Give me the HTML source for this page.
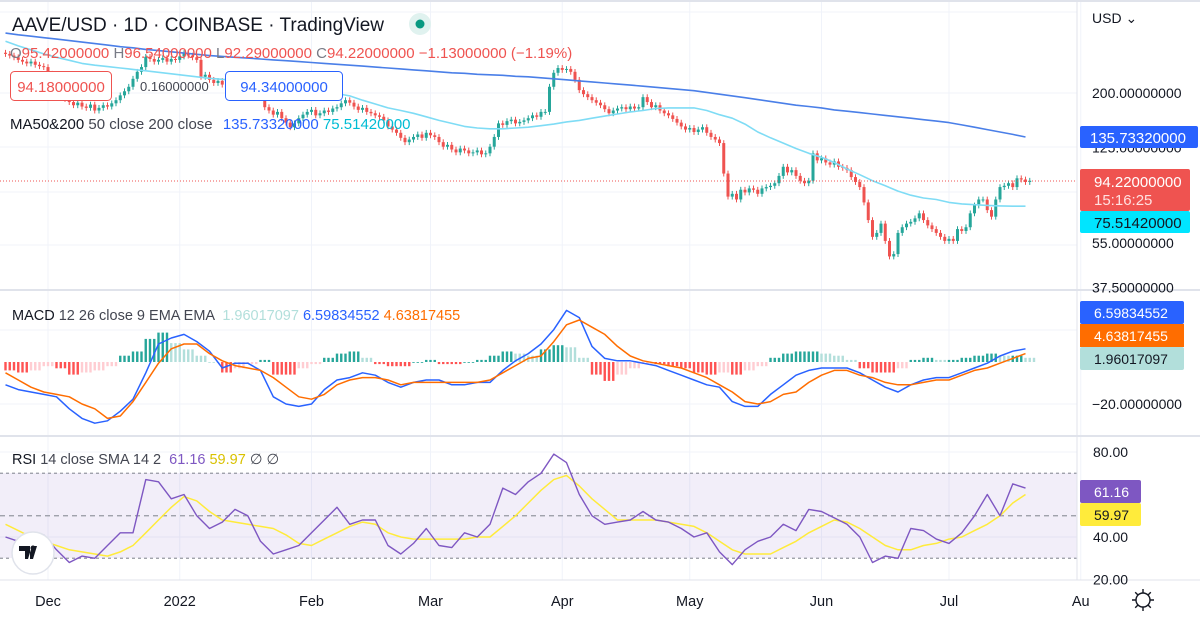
<!DOCTYPE html>
<html><head><meta charset="utf-8">
<style>
html,body{margin:0;padding:0;background:#fff;}
#root{position:relative;width:1200px;height:617px;overflow:hidden;font-family:"Liberation Sans",sans-serif;}
svg text{font-family:"Liberation Sans",sans-serif;}
</style></head>
<body>
<div id="root">
<svg id="chart" width="1200" height="617" viewBox="0 0 1200 617">
  <defs><clipPath id="plot"><rect x="0" y="0" width="1077" height="617"/></clipPath></defs>
  <g id="grid"></g>
  <rect x="0" y="473" width="1077" height="85" fill="#7e57c2" fill-opacity="0.1"/>
  <g id="rsiLevels"></g>
  <g clip-path="url(#plot)">
    <g id="candles"></g>
    <g id="mas"></g>
    <g id="macd"></g>
    <g id="rsi"></g>
  </g>
  <line x1="0" y1="181" x2="1077" y2="181" stroke="#ef5350" stroke-dasharray="1,2" stroke-width="1"/>
  <line x1="0" y1="290" x2="1200" y2="290" stroke="#e0e3eb" stroke-width="2"/>
  <line x1="0" y1="436" x2="1200" y2="436" stroke="#e0e3eb" stroke-width="2"/>
  <line x1="0" y1="580" x2="1200" y2="580" stroke="#e0e3eb" stroke-width="1"/>
  <line x1="1077" y1="0" x2="1077" y2="580" stroke="#e0e3eb" stroke-width="1"/>
  <line x1="0" y1="1" x2="1200" y2="1" stroke="#e0e3eb" stroke-width="2"/>

  <!-- header -->
  <text x="12" y="31" font-size="19" fill="#131722">AAVE/USD · 1D · COINBASE · TradingView</text>
  <circle cx="420" cy="24" r="11" fill="#e0f2ef"/>
  <circle cx="420" cy="24" r="4.5" fill="#089981"/>
  <text x="10" y="58" font-size="15" fill="#ef5350"><tspan fill="#787b86">O</tspan>95.42000000 <tspan fill="#787b86">H</tspan>96.54000000 <tspan fill="#787b86">L</tspan>92.29000000 <tspan fill="#787b86">C</tspan>94.22000000 −1.13000000 (−1.19%)</text>
  <rect x="10.5" y="71.5" width="101" height="29" rx="4" fill="#fff" stroke="#ef5350"/>
  <text x="61" y="92" font-size="15" fill="#ef5350" text-anchor="middle">94.18000000</text>
  <text x="140" y="91" font-size="13" fill="#434651">0.16000000</text>
  <rect x="225.5" y="71.5" width="117" height="29" rx="4" fill="#fff" stroke="#2962ff"/>
  <text x="284" y="92" font-size="15" fill="#2962ff" text-anchor="middle">94.34000000</text>
  <text x="10" y="129" font-size="15" fill="#131722">MA50&amp;200 <tspan fill="#434651">50 close 200 close</tspan>  <tspan fill="#2962ff" dx="6">135.73320000</tspan> <tspan fill="#00bcd4">75.51420000</tspan></text>
  <text x="12" y="320" font-size="14.5" fill="#131722">MACD <tspan fill="#434651">12 26 close 9 EMA EMA</tspan> <tspan fill="#b2dfdb" dx="4">1.96017097</tspan> <tspan fill="#2962ff">6.59834552</tspan> <tspan fill="#ff6d00">4.63817455</tspan></text>
  <text x="12" y="464" font-size="14.5" fill="#131722">RSI <tspan fill="#434651">14 close SMA 14 2</tspan> <tspan fill="#7e57c2" dx="4">61.16</tspan> <tspan fill="#d9c100">59.97</tspan> <tspan fill="#434651">∅ ∅</tspan></text>

  <!-- price axis -->
  <text x="1092" y="23" font-size="14" fill="#131722">USD ⌄</text>
  <g id="axisLabels"></g>
  <rect x="1080" y="126" width="118" height="22" fill="#2962ff" rx="2"/>
  <text x="1090" y="143" font-size="15" fill="#fff">135.73320000</text>
  <rect x="1080" y="169" width="110" height="42" fill="#ef5350" rx="2"/>
  <text x="1094" y="187" font-size="15" fill="#fff">94.22000000</text>
  <text x="1094" y="205" font-size="15" fill="#ffe0e0">15:16:25</text>
  <rect x="1080" y="211" width="110" height="22" fill="#00e5ff" rx="2"/>
  <text x="1094" y="228" font-size="15" fill="#131722">75.51420000</text>
  <rect x="1080" y="301" width="104" height="23" fill="#2962ff" rx="2"/>
  <text x="1094" y="318" font-size="14" fill="#fff">6.59834552</text>
  <rect x="1080" y="324" width="104" height="23" fill="#ff6d00"/>
  <text x="1094" y="341" font-size="14" fill="#fff">4.63817455</text>
  <rect x="1080" y="347" width="104" height="23" fill="#b2dfdb" rx="2"/>
  <text x="1094" y="364" font-size="14" fill="#131722">1.96017097</text>
  <rect x="1080" y="480" width="61" height="23" fill="#7e57c2" rx="2"/>
  <text x="1094" y="497" font-size="14" fill="#fff">61.16</text>
  <rect x="1080" y="503" width="61" height="23" fill="#ffeb3b" rx="2"/>
  <text x="1094" y="520" font-size="14" fill="#131722">59.97</text>

  <!-- logo -->
  <circle cx="33" cy="553" r="21" fill="#fff" stroke="#e0e3eb" stroke-width="1.5"/>
  <path d="M19 546 h11 v13 h-5 v-8 h-6 z M32 546 l-4 13 h5 l4 -13 z" fill="#131722"/>
  <circle cx="33" cy="548" r="2.5" fill="#131722"/>

  <g id="timeLabels"></g>
  <g transform="translate(1143,600)" fill="none" stroke="#131722" stroke-width="1.4">
    <circle r="7"/>
    <path d="M0 -11 v4 M0 7 v4 M-11 0 h4 M7 0 h4 M-7.8 -7.8 l2.8 2.8 M5 5 l2.8 2.8 M-7.8 7.8 l2.8 -2.8 M5 -5 l2.8 -2.8"/>
  </g>
</svg>
</div>
<script>
// ---- data ----
const closes = [280,276,272,266,262,258,262,255,252,250,236,222,206,198,190,185,180,184,178,176,181,172,176,180,178,183,188,196,203,211,226,240,250,273,268,262,266,270,262,268,266,274,282,276,272,266,230,234,224,218,222,215,211,214,208,205,212,218,215,224,195,177,172,166,170,161,155,149,154,161,166,170,173,165,168,172,170,175,177,183,188,184,178,173,176,170,168,165,163,158,150,146,142,136,131,134,137,140,136,142,139,137,131,126,128,123,120,124,122,119,120,122,118,119,126,137,154,152,157,159,154,156,158,161,165,163,170,170,211,238,248,244,246,240,224,205,198,193,188,184,180,174,168,172,175,177,174,178,175,177,193,185,177,180,172,168,165,160,155,150,146,148,143,146,149,142,137,134,130,100,82,84,80,87,85,88,87,84,88,89,90,92,98,106,101,103,98,94,92,94,119,112,114,110,108,111,106,105,103,97,93,89,78,67,58,60,65,56,49,50,60,63,65,66,68,71,67,64,62,60,58,56,57,56,62,61,63,71,76,80,80,73,69,80,89,90,92,89,96,95,93,94];
const ma200 = [335,330,326,322,318,314,310,306,302,298,295,291,288,285,282,279,276,274,272,270,268,266,264,262,260,258,256,254,252,250,248,246,244,242,240,238,237,235,234,233,231,230,228,226,224,222,220,218,216,214,212,210,208,206,204,201,198,195,192,189,186,183,180,178,176,173,171,169,167,165,163,161,159,157,155,152,149,146,143,140,137];
const ma50 = [312,300,290,280,272,265,258,254,251,248,245,242,239,236,233,230,227,225,223,219,215,211,208,205,203,201,199,195,188,182,176,172,168,163,158,154,150,148,147,147,148,149,151,153,156,158,161,164,167,170,172,175,176,176,176,172,166,161,153,143,136,130,124,119,115,110,104,99,94,90,86,83,81,80,78,77,76.5,76,75.7,75.5,75.5];
const macdLine = [-12,-14,-15,-16,-17,-22,-26,-28,-27,-23,-18,-7,5,7.5,9,6,2,-5,-3,-3,-6,-17,-20,-21,-20,-14,-10,-9,-7,-8,-11,-13,-11,-10,-10,-12,-12,-11,-11,-6,-2,1,5,11,19,16,4,-1,-2,-2,-3,-4,-6,-8,-10,-12,-13,-19,-21,-21,-16,-12,-8,-6,-5,-5,-5,-7,-10,-13,-15,-12,-10,-9,-9,-7,-5,-3,0,2,3];
const signalLine = [-7,-10,-13,-15,-16,-17,-20,-22,-26,-25,-19,-11,-3,3,5,5,1,-2,-4,-5,-6,-9,-13,-17,-18,-16,-12,-10,-9,-9,-10,-12,-11,-11,-11,-11,-11,-11,-10,-7,-4,-1,0,6,13,15,12,9,4,0,-2,-3,-4,-5,-7,-9,-12,-15,-19,-20,-19,-16,-15,-11,-8,-6,-6,-8,-9,-11,-12,-12,-11,-10,-10,-8,-6,-5,-3,-1,1];
const histValues = [-4,-5,-4,-2,-3,-6,-5,-4,-2,3,5,11,14,9,6,3,0,-5,-3,-1,1,-6,-6,-3,-1,2,4,5,2,-1,-2,-2,0,1,-1,-1,0,1,3,5,4,3,6,8,7,2,-6,-9,-6,-3,-1,-1,-2,-3,-5,-6,-5,-6,-4,-2,2,4,5,5,4,3,1,-3,-5,-5,-3,1,2,1,1,2,3,4,3,3,2];
const rsiValues = [40,38,38,41,34,28,31,30,36,42,42,67,66,58,60,50,44,47,53,50,38,32,34,36,42,48,54,46,48,48,36,32,37,44,36,35,42,40,46,63,60,66,70,79,75,60,50,46,47,48,52,48,47,44,40,42,33,27,34,38,40,46,43,53,52,49,46,40,28,31,30,44,43,39,37,42,50,60,50,65,63];
const rsiSma = [46,43,40,38,36,34,33,32,31,33,36,42,48,54,59,57,52,48,47,46,45,44,41,37,36,39,42,45,47,46,42,40,39,39,39,39,39,40,40,45,50,56,62,67,69,64,58,53,48,48,48,48,47,46,45,42,38,34,32,32,32,35,38,42,45,48,47,44,40,36,34,34,36,37,39,40,43,46,50,56,60];
const priceTicks = ["200.00000000","125.00000000","55.00000000","37.50000000"];
const priceTickVals = [200,125,55,37.5];
const rsiTicks = [80,40,20];
const monthLabels = ["Dec","2022","Feb","Mar","Apr","May","Jun","Jul","Au"];
const monthDays = [10,41,72,100,131,161,192,222,253]; // days since Nov 21

// ---- axes ----
const X0 = 5.5, DX = 4.25;
const xDay = d => X0 + DX*d;
const xGrid = i => xDay(i*3);
const yPrice = p => 93 - 116.2*Math.log(p/200);
const yMacd = v => 356 - 2.4*v;
const yHist = v => 362 - 2.1*v;
const yRsi = v => 452 + (80 - v)*2.125;
const NS = "http://www.w3.org/2000/svg";
function mk(tag, attrs, parent){ const e=document.createElementNS(NS,tag); for(const k in attrs) e.setAttribute(k,attrs[k]); parent.appendChild(e); return e; }

// grid
const grid = document.getElementById('grid');
[12,93,147,192,245,330,404,452,537].forEach(y=>{
  const l = mk('line',{x1:0,x2:1077,y1:y,y2:y,stroke:'#f0f3fa','stroke-width':1},grid);
  
  
});
monthDays.forEach(d=>{
  const l = mk('line',{x1:xDay(d),x2:xDay(d),y1:0,y2:580,stroke:'#f0f3fa','stroke-width':1},grid);
  
  
});
// rsi levels
const rl = document.getElementById('rsiLevels');
[70,50,30].forEach(v=>{
  const l = mk('line',{x1:0,x2:1077,y1:yRsi(v),y2:yRsi(v),stroke:'#9598a1','stroke-dasharray':v===50?'5,4':'3,3','stroke-width':1.2},rl);
  
  
});

// candles
const cg = document.getElementById('candles');
closes.forEach((c,i)=>{
  const o = i===0 ? c*1.01 : closes[i-1];
  const up = c>=o;
  const col = up ? '#26a69a' : '#ef5350';
  const hi = Math.max(o,c)*1.025, lo = Math.min(o,c)*0.975;
  const x = xDay(i);
  const w = mk('line',{x1:x,x2:x,y1:yPrice(hi),y2:yPrice(lo),stroke:col,'stroke-width':1},cg);
  
  
  const yt = yPrice(Math.max(o,c)), yb = yPrice(Math.min(o,c));
  const b = mk('rect',{x:x-1.5,y:yt,width:3,height:Math.max(1,yb-yt),fill:col},cg);
  
  
});

function poly(arr, yf, color, g, name, w){
  const pts = arr.map((v,i)=>xGrid(i).toFixed(1)+','+yf(v).toFixed(1)).join(' ');
  const p = mk('polyline',{points:pts,fill:'none',stroke:color,'stroke-width':w||1.5,'stroke-linejoin':'round'},g);
  
  
}
const mg = document.getElementById('mas');
poly(ma200,yPrice,'#4a7fe8',mg,'ma200-line',1.6);
poly(ma50,yPrice,'#7fdcf5',mg,'ma50-line',1.6);

// macd hist
const hg = document.getElementById('macd');
histValues.forEach((h,i)=>{
  const prev = i>0 ? histValues[i-1] : h;
  let col;
  if(h>=0) col = h>=prev ? '#26a69a' : '#b2dfdb'; else col = h<=prev ? '#ff5252' : '#ffcdd2';
  for(let k=0;k<3;k++){
    const x = xGrid(i)+k*DX-1.2;
    const y0 = yHist(0), y1 = yHist(h);
    const r = mk('rect',{x:x,y:Math.min(y0,y1),width:2.4,height:Math.max(0.8,Math.abs(y1-y0)),fill:col},hg);
    
    
  }
});
poly(macdLine,yMacd,'#2962ff',hg,'macd-line',1.5);
poly(signalLine,yMacd,'#ff6d00',hg,'signal-line',1.5);

const rg = document.getElementById('rsi');
poly(rsiSma,yRsi,'#ffeb3b',rg,'rsi-sma-line',1.5);
poly(rsiValues,yRsi,'#7e57c2',rg,'rsi-line',1.4);

// axis labels
const al = document.getElementById('axisLabels');
priceTicks.forEach((t,i)=>{
  const e = mk('text',{x:1092,y:yPrice(priceTickVals[i])+5,'font-size':14,fill:'#131722'},al);
  e.textContent = t;
  
  
});
const m = mk('text',{x:1092,y:409,'font-size':14,fill:'#131722'},al);
m.textContent = '−20.00000000';


rsiTicks.forEach(v=>{
  const e = mk('text',{x:1093,y:yRsi(v)+5,'font-size':14,fill:'#131722'},al);
  e.textContent = v.toFixed(2);
  
  
});
const tl = document.getElementById('timeLabels');
monthLabels.forEach((t,i)=>{
  const e = mk('text',{x:xDay(monthDays[i]),y:606,'font-size':14.5,fill:'#131722','text-anchor':'middle'},tl);
  e.textContent = t;
  
  
});
</script>
</body></html>
